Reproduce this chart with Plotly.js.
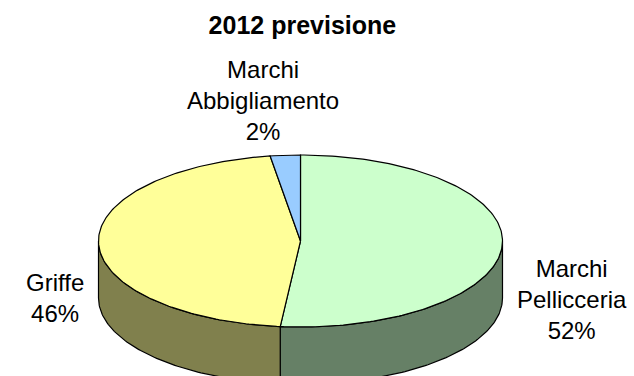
<!DOCTYPE html>
<html>
<head>
<meta charset="utf-8">
<script src="https://cdn.plot.ly/plotly-3.0.1.min.js"></script>
<style>html,body{margin:0;padding:0;background:#fff;}#chart{width:634px;height:376px;}</style>
</head>
<body>
<div id="chart"></div>
<script>
// ---- data ----
const categories = ["Marchi Pellicceria", "Griffe", "Marchi Abbigliamento"];
const labelLines = ["Marchi<br>Pellicceria", "Griffe", "Marchi<br>Abbigliamento"];
const values = [51.6, 46.0, 2.4];
const topColors = ["#CCFFCC", "#FFFF99", "#99CCFF"];
const sideColors = ["#668066", "#80804D", "#4D6680"];
const titleText = "2012 previsione";

// ---- geometry (pixel-space axes) ----
const W = 634, H = 376;
const cx = 300.5, cy = 241, rx = 202, ry = 86, depth = 57;
const labelPos = [[572, 299], [55, 298], [263, 100]];

function pt(theta, dy) {
  const r = theta * Math.PI / 180;
  return [cx + rx * Math.sin(r), cy - ry * Math.cos(r) + (dy || 0)];
}
function arc(a0, a1, dy) {
  const pts = [];
  const n = Math.max(2, Math.ceil(Math.abs(a1 - a0)));
  for (let i = 0; i <= n; i++) pts.push(pt(a0 + (a1 - a0) * i / n, dy));
  return pts;
}

const total = values.reduce((a, b) => a + b, 0);
const starts = [], ends = [];
let acc = 0;
values.forEach(v => { starts.push(acc / total * 360); acc += v; ends.push(acc / total * 360); });

const traces = [];
// side faces (front half: 90..270)
values.forEach((v, i) => {
  const a0 = Math.max(starts[i], 90), a1 = Math.min(ends[i], 270);
  if (a1 <= a0) return;
  const top = arc(a0, a1, 0);
  const bot = arc(a1, a0, depth);
  const poly = top.concat(bot);
  poly.push(top[0]);
  traces.push({
    type: "scatter", mode: "lines", fill: "toself",
    x: poly.map(p => p[0]), y: poly.map(p => p[1]),
    fillcolor: sideColors[i], line: {color: "#000", width: 1.2},
    hoverinfo: "skip", showlegend: false
  });
});
// top faces
values.forEach((v, i) => {
  const poly = [[cx, cy]].concat(arc(starts[i], ends[i], 0));
  poly.push([cx, cy]);
  traces.push({
    type: "scatter", mode: "lines", fill: "toself",
    x: poly.map(p => p[0]), y: poly.map(p => p[1]),
    fillcolor: topColors[i], line: {color: "#000", width: 1.2},
    name: categories[i], hoverinfo: "name", showlegend: false
  });
});

const annotations = values.map((v, i) => ({
  x: labelPos[i][0], y: labelPos[i][1], xref: "x", yref: "y",
  text: labelLines[i] + "<br>" + Math.round(v / total * 100) + "%",
  showarrow: false, xanchor: "center", yanchor: "middle", align: "center",
  font: {family: "Liberation Sans, Arial, sans-serif", size: 24, color: "#000"}
}));

const layout = {
  width: W, height: H,
  margin: {l: 0, r: 0, t: 0, b: 0},
  paper_bgcolor: "#fff", plot_bgcolor: "#fff",
  title: {text: "<b>" + titleText + "</b>", x: 0.477, xanchor: "center", y: 0.932, yanchor: "middle",
          font: {family: "Liberation Sans, Arial, sans-serif", size: 25, color: "#000"}},
  xaxis: {range: [0, W], visible: false, fixedrange: true},
  yaxis: {range: [H, 0], visible: false, fixedrange: true},
  annotations: annotations,
  showlegend: false
};

Plotly.newPlot("chart", traces, layout, {displayModeBar: false, staticPlot: true});
</script>
</body>
</html>
